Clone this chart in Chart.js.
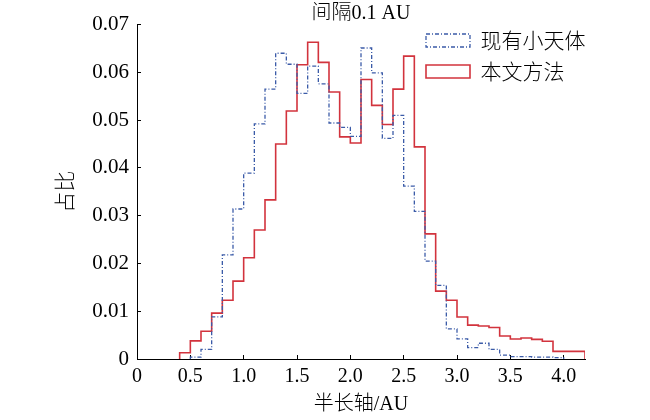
<!DOCTYPE html>
<html>
<head>
<meta charset="utf-8">
<script src="https://cdn.jsdelivr.net/npm/chart.js@4/dist/chart.umd.min.js"></script>
<style>
    body { margin: 0; background: #fff; }
    #box { width: 650px; height: 420px; }
</style>
</head>
<body>
<div id="box"><canvas id="chart"></canvas></div>
<script>
    let seriesNames = ["现有小天体", "本文方法"];
    let binWidth = 0.1;

    // 现有小天体, bins starting at 0.5 AU
    let blueStart = 0.5;
    let blueValues = [
        0.0004, 0.0020, 0.0088, 0.0218, 0.0314,
        0.0389, 0.0492, 0.0565, 0.0640, 0.0617,
        0.0556, 0.0613, 0.0576, 0.0494, 0.0485,
        0.0466, 0.0651, 0.0599, 0.0462, 0.0510,
        0.0362, 0.0309, 0.0205, 0.0154, 0.0063,
        0.0042, 0.0024, 0.0033, 0.0020, 0.0008,
        0.0005, 0.0005, 0.0004, 0.0004, 0.0003
    ];

    // 本文方法, bins starting at 0.4 AU
    let redStart = 0.4;
    let redValues = [
        0.0013, 0.0038, 0.0058, 0.0096, 0.0123, 0.0163,
        0.0212, 0.0270, 0.0333, 0.0450, 0.0519,
        0.0616, 0.0663, 0.0621, 0.0559, 0.0465,
        0.0452, 0.0585, 0.0531, 0.0491, 0.0565,
        0.0634, 0.0444, 0.0262, 0.0142, 0.0123,
        0.0088, 0.0071, 0.0069, 0.0066, 0.0048,
        0.0042, 0.0044, 0.0041, 0.0037, 0.0016,
        0.0016, 0.0016
    ];

    let xTickValues = [0, 0.5, 1.0, 1.5, 2.0, 2.5, 3.0, 3.5, 4.0];
    let xTickLabels = ["0", "0.5", "1.0", "1.5", "2.0", "2.5", "3.0", "3.5", "4.0"];
    let yTickValues = [0, 0.01, 0.02, 0.03, 0.04, 0.05, 0.06, 0.07];
    let yTickLabels = ["0", "0.01", "0.02", "0.03", "0.04", "0.05", "0.06", "0.07"];

    // histogram outline: one point per right bin edge, drawn with stepped 'after'
    function toSteps(start, values)
    {
        let pts = [{x: start, y: 0}];
        for (let i = 0; i < values.length; i++)
        {
            pts.push({x: +(start + (i + 1) * binWidth).toFixed(2), y: values[i]});
        }
        pts.push({x: pts[pts.length - 1].x, y: 0});
        return pts;
    }

    Chart.defaults.font.family = "'Liberation Serif', 'Noto Sans CJK SC', serif";
    Chart.defaults.color = "#000";

    // put the legend in the upper right of the plot
    let legendInside = {
        id: "legendInside",
        afterLayout(chart)
        {
            let lg = chart.legend;
            lg.left = 416;
            lg.right = lg.left + lg.width;
            lg.top = 20;
            lg.bottom = chart.chartArea.bottom;
        }
    };

    let ctx = document.getElementById("chart").getContext("2d");
    let display = new Chart(ctx,
    {
        type: "line",
        data:
        {
            datasets: [
                {
                    label: seriesNames[0],
                    data: toSteps(blueStart, blueValues),
                    stepped: "after",
                    borderColor: "#3b5ba8",
                    backgroundColor: "rgba(255,255,255,0)",
                    borderWidth: 1.3,
                    borderDash: [4, 2, 1, 2],
                    pointRadius: 0,
                    fill: false
                },
                {
                    label: seriesNames[1],
                    data: toSteps(redStart, redValues),
                    stepped: "after",
                    borderColor: "#d2333d",
                    backgroundColor: "rgba(255,255,255,0)",
                    borderWidth: 1.6,
                    pointRadius: 0,
                    fill: false
                }
            ]
        },
        options:
        {
            responsive: true,
            maintainAspectRatio: false,
            animation: false,
            layout: { padding: { left: 0, right: 65, top: 0, bottom: 0 } },
            plugins:
            {
                tooltip: { enabled: false },
                legend:
                {
                    position: "chartArea",
                    align: "start",
                    labels:
                    {
                        boxWidth: 44,
                        boxHeight: 13,
                        padding: 10,
                        color: "#000",
                        font: { size: 21, weight: "300", family: "'Noto Sans CJK SC', 'Liberation Serif', serif" }
                    }
                }
            },
            scales:
            {
                x:
                {
                    type: "linear",
                    position: "bottom",
                    min: 0,
                    max: 4.2,
                    afterBuildTicks: function(axis) { axis.ticks = xTickValues.map(v => ({value: v})); },
                    afterFit: function(axis) { axis.height = 61; },
                    ticks:
                    {
                        autoSkip: false,
                        maxRotation: 0,
                        padding: 10,
                        font: { size: 20 },
                        callback: function(v, i) { return xTickLabels[i]; }
                    },
                    grid: { drawOnChartArea: false, tickLength: -4, color: "#000", lineWidth: 1 },
                    border: { display: true, color: "#000", width: 1 },
                    title:
                    {
                        display: true,
                        text: "半长轴/AU",
                        font: { size: 20, weight: "300" },
                        padding: { top: 3, bottom: 3 }
                    }
                },
                top:
                {
                    type: "linear",
                    position: "top",
                    min: 0,
                    max: 1,
                    afterFit: function(axis) { axis.height = 23; },
                    ticks: { display: false },
                    grid: { display: false },
                    border: { display: false },
                    title:
                    {
                        display: true,
                        text: "间隔0.1 AU",
                        font: { size: 20, weight: "300" },
                        padding: { top: 0, bottom: 0 }
                    }
                },
                y:
                {
                    type: "linear",
                    min: 0,
                    max: 0.07,
                    afterBuildTicks: function(axis) { axis.ticks = yTickValues.map(v => ({value: v})); },
                    afterFit: function(axis) { axis.width = 137; },
                    ticks:
                    {
                        padding: 12,
                        font: { size: 21 },
                        callback: function(v, i) { return yTickLabels[i]; }
                    },
                    grid: { drawOnChartArea: false, tickLength: -4, color: "#000", lineWidth: 1 },
                    border: { display: true, color: "#000", width: 1 },
                    title:
                    {
                        display: true,
                        text: "占比",
                        font: { size: 21, weight: "300" },
                        padding: { top: 54, bottom: 0 }
                    }
                }
            }
        },
        plugins: [legendInside]
    });
</script>
</body>
</html>
